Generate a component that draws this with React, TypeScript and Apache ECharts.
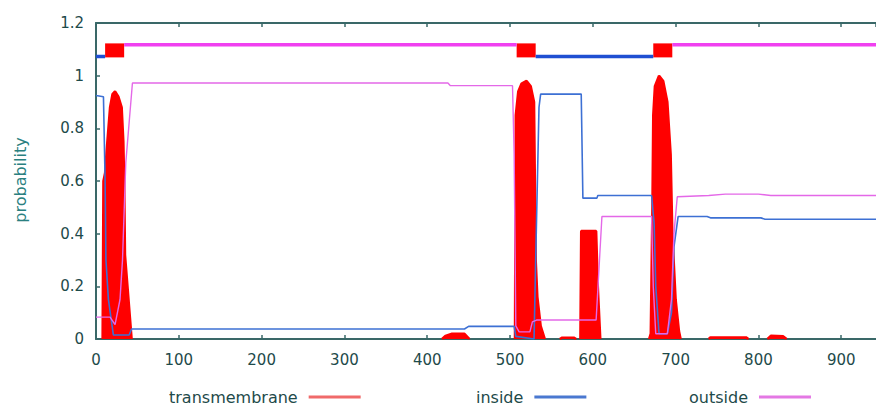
import React, { useEffect, useRef } from "react";
import * as echarts from "echarts";

// Position along the sequence (x) and posterior probability (y); each inner list is one peak
const transmembranePeaks: [number, number][][] = [
  [[8, 0], [9, 0.6], [11, 0.63], [13, 0.72], [17, 0.88], [20, 0.93], [23, 0.94], [27, 0.92], [31, 0.88], [33, 0.75], [34, 0.6], [35, 0.32], [38, 0.2], [41, 0.08], [43, 0]],
  [[418, 0], [422, 0.012], [430, 0.02], [445, 0.02], [451, 0]],
  [[506, 0], [507, 0.85], [510, 0.94], [514, 0.97], [520, 0.98], [525, 0.96], [529, 0.9], [530, 0.6], [531, 0.3], [533, 0.16], [537, 0.05], [542, 0]],
  [[560, 0], [563, 0.005], [577, 0.005], [580, 0]],
  [[585, 0], [586, 0.41], [604, 0.41], [606, 0.2], [609, 0]],
  [[668, 0], [670, 0.02], [672, 0.5], [673, 0.85], [675, 0.96], [680, 1.0], [685, 0.98], [690, 0.9], [694, 0.7], [696, 0.4], [700, 0.15], [704, 0.03], [706, 0]],
  [[740, 0], [742, 0.006], [785, 0.006], [788, 0]],
  [[811, 0], [815, 0.012], [830, 0.01], [834, 0]],
];

const inside: [number, number][] = [
  [0, 0.925], [9, 0.92], [11, 0.6], [12, 0.3], [15, 0.15], [21, 0.015], [40, 0.015], [43, 0.038],
  [445, 0.038], [450, 0.048], [505, 0.048], [507, 0.01], [529, 0.0], [531, 0.3], [535, 0.88], [537, 0.93],
  [586, 0.93], [588, 0.535], [605, 0.535], [606, 0.545], [671, 0.545], [674, 0.44], [676, 0.2], [680, 0.02],
  [690, 0.02], [695, 0.1], [698, 0.35], [703, 0.465], [738, 0.465], [742, 0.46], [803, 0.46], [808, 0.455], [942, 0.455],
];

const outside: [number, number][] = [
  [0, 0.083], [17, 0.083], [23, 0.055], [29, 0.15], [32, 0.3], [36, 0.67], [44, 0.972],
  [425, 0.972], [428, 0.962], [503, 0.962], [505, 0.7], [507, 0.05], [511, 0.027], [524, 0.027], [527, 0.065], [532, 0.072],
  [604, 0.072], [611, 0.465], [671, 0.465], [673, 0.2], [676, 0.02], [690, 0.02], [695, 0.15], [698, 0.4], [702, 0.54],
  [740, 0.545], [760, 0.55], [800, 0.55], [815, 0.545], [942, 0.545],
];

// Predicted topology strip at the top: [start, end] positions
const insideSegments: [number, number][] = [[0, 11], [531, 673]];
const outsideSegments: [number, number][] = [[34, 508], [696, 942]];
const tmSegments: [number, number][] = [[11, 34], [508, 531], [673, 696]];
const stripLevels = { outside: 1.117, inside: 1.073, tm: 1.096 };

const xMin = 0;
const xMax = 942;
const xInterval = 100;
const yMin = 0;
const yMax = 1.2;
const yInterval = 0.2;

const legendNames = ["transmembrane", "inside", "outside"];

const axisColor = "#3a6868";
const labelColor = "#1e4a4a";

export default function App() {
  const ref = useRef<HTMLDivElement>(null);

  useEffect(() => {
    if (!ref.current) return;
    const chart = echarts.init(ref.current, undefined, { renderer: "svg" });

    const segSeries = (segs: [number, number][], level: number, color: string, width: number, name: string) =>
      segs.map((s, i) => ({
        name: `${name}-${i}`,
        type: "line",
        xAxisIndex: 0,
        data: [[s[0], level], [s[1], level]],
        showSymbol: false,
        symbol: "none",
        lineStyle: { color, width, cap: "butt" },
        z: 3,
        silent: true,
      }));

    const tmData: any[] = [];
    transmembranePeaks.forEach((peak, i) => {
      if (i > 0) tmData.push(null);
      peak.forEach((p) => tmData.push(p));
    });

    const font = "DejaVu Sans, Verdana, sans-serif";

    const legendBase = {
      orient: "horizontal",
      align: "right",
      icon: "rect",
      itemWidth: 52,
      itemHeight: 3,
      padding: 0,
      textStyle: { color: labelColor, fontSize: 16, fontFamily: font, padding: [0, 6, 0, 0] },
    };

    chart.setOption({
      animation: false,
      backgroundColor: "#ffffff",
      grid: { left: 96, right: 0, top: 23, bottom: 71, containLabel: false },
      legend: [
        { ...legendBase, left: 169, top: 389, data: [{ name: legendNames[0], itemStyle: { color: "#f06a6a" } }] },
        { ...legendBase, left: 476, top: 389, data: [{ name: legendNames[1], itemStyle: { color: "#4a78d0" } }] },
        { ...legendBase, left: 689, top: 389, data: [{ name: legendNames[2], itemStyle: { color: "#e478e4" } }] },
      ],
      xAxis: [
        {
          type: "value",
          min: xMin,
          max: xMax,
          interval: xInterval,
          position: "bottom",
          axisLine: { show: true, lineStyle: { color: axisColor, width: 2 } },
          axisTick: { show: true, inside: true, length: 4, lineStyle: { color: axisColor, width: 1.5 } },
          axisLabel: { color: labelColor, fontSize: 15, fontFamily: font, margin: 13, showMaxLabel: false },
          splitLine: { show: false },
        },
        {
          type: "value",
          min: xMin,
          max: xMax,
          interval: xInterval,
          position: "top",
          axisLine: { show: true, lineStyle: { color: axisColor, width: 2 } },
          axisTick: { show: true, inside: true, length: 4, lineStyle: { color: axisColor, width: 1.5 } },
          axisLabel: { show: false },
          splitLine: { show: false },
        },
      ],
      yAxis: {
        type: "value",
        min: yMin,
        max: yMax,
        interval: yInterval,
        axisLine: { show: true, lineStyle: { color: axisColor, width: 2 } },
        axisTick: { show: true, inside: true, length: 4, lineStyle: { color: axisColor, width: 1.5 } },
        axisLabel: { color: labelColor, fontSize: 15, fontFamily: font, margin: 12 },
        splitLine: { show: false },
      },
      graphic: [
        {
          type: "text",
          x: 20,
          y: 180,
          rotation: Math.PI / 2,
          style: {
            text: "probability",
            fill: "#2a8080",
            fontSize: 16,
            fontFamily: font,
            align: "center",
            verticalAlign: "middle",
          },
          silent: true,
        },
      ],
      series: [
        {
          name: "transmembrane",
          type: "line",
          data: tmData,
          connectNulls: false,
          showSymbol: false,
          symbol: "none",
          lineStyle: { color: "#ff0000", width: 2.5 },
          itemStyle: { color: "#ff0000" },
          areaStyle: { color: "#ff0000", opacity: 1 },
          z: 2,
        },
        {
          name: "inside",
          type: "line",
          data: inside,
          showSymbol: false,
          symbol: "none",
          lineStyle: { color: "#3d70d4", width: 1.6 },
          itemStyle: { color: "#3d70d4" },
          z: 4,
        },
        {
          name: "outside",
          type: "line",
          data: outside,
          showSymbol: false,
          symbol: "none",
          lineStyle: { color: "#e468e8", width: 1.4 },
          itemStyle: { color: "#e468e8" },
          z: 4,
        },
        ...segSeries(tmSegments, stripLevels.tm, "#ff0000", 14, "tm-strip"),
        ...segSeries(insideSegments, stripLevels.inside, "#1f4fd2", 3.5, "inside-strip"),
        ...segSeries(outsideSegments, stripLevels.outside, "#f040f0", 3.5, "outside-strip"),
      ],
    });

    return () => {
      chart.dispose();
    };
  }, []);

  return (
    <div
      ref={ref}
      style={{ position: "fixed", left: 0, top: 0, width: 876, height: 410, background: "#fff" }}
    />
  );
}
